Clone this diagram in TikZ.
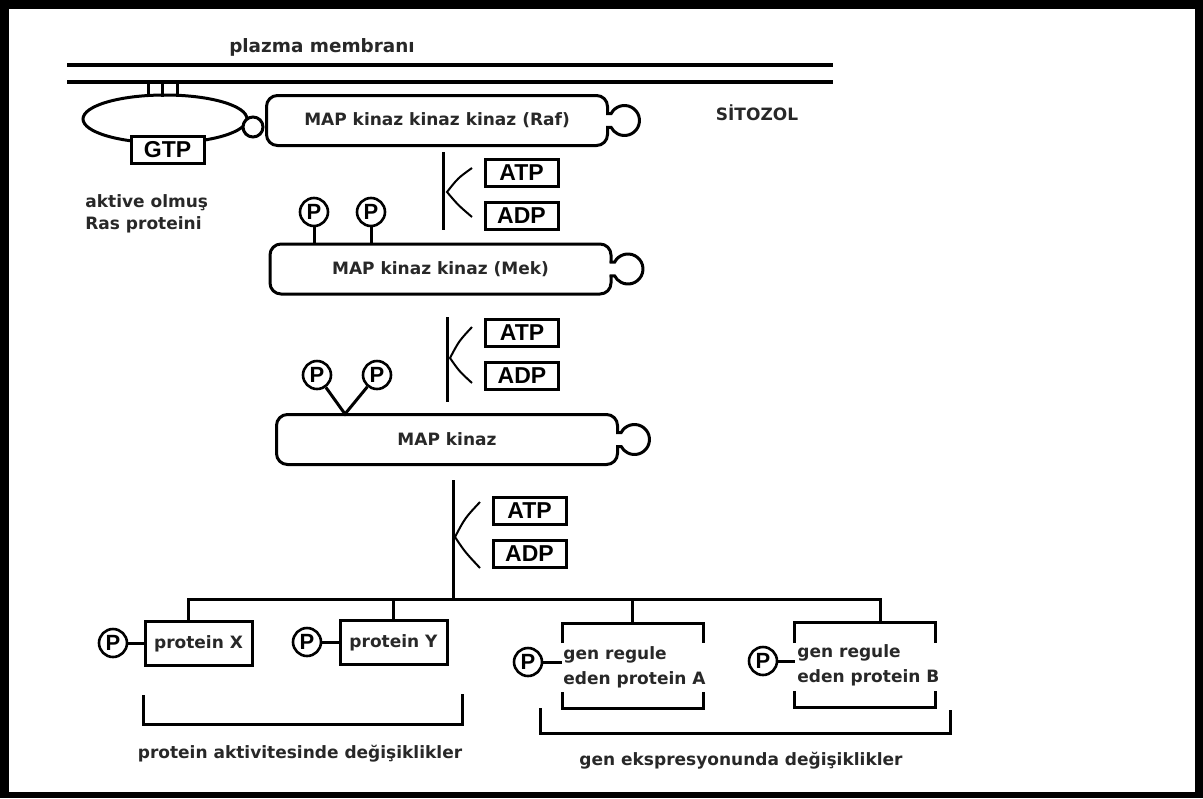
\documentclass[tikz,border=0pt]{standalone}
\usepackage{fontspec}
\setmainfont{DejaVu Sans}
\newfontfamily\arialfont{Liberation Sans}
\usepackage{tikz}
\usetikzlibrary{calc,positioning,shapes.geometric}
\definecolor{inkgray}{RGB}{40,40,40}
\newcommand{\lblfont}{\bfseries\fontsize{8.5}{12.5}\selectfont}

\begin{document}
\begin{tikzpicture}[
    x=0.5pt, y=-0.5pt,
    kinase/.style={draw, line width=1.5pt, fill=white, rounded corners=5.5pt, outer sep=0pt, minimum width=170.5pt, minimum height=25pt, font=\lblfont, text=inkgray},
    nucleo/.style={draw, line width=1.5pt, fill=white, outer sep=0pt, inner sep=0pt, minimum width=36.5pt, minimum height=13.5pt, font=\arialfont\bfseries\fontsize{11.5}{12}\selectfont},
    phos/.style={draw, circle, line width=1.3pt, fill=white, inner sep=0pt, minimum size=14pt, font=\arialfont\bfseries\fontsize{11}{11}\selectfont},
    protbox/.style={draw, line width=1.5pt, outer sep=0pt, minimum width=53.5pt, minimum height=22pt, font=\lblfont, text=inkgray},
    genbox/.style={minimum width=70.5pt, minimum height=42.5pt, outer sep=0pt},
    tag/.style={font=\lblfont, text=inkgray, inner sep=0pt},
    link/.style={line width=1.5pt},
    thinlink/.style={line width=1pt},
    membrane/.style={line width=2pt}
]
    % Frame
    \useasboundingbox (0,0) rectangle (1203,798);
    \fill[black] (0,0) rectangle (1203,798);
    \fill[white] (9,9) rectangle (1195,792);

    % Membrane
    \draw[membrane] (67,65) -- (833,65);
    \draw[membrane] (67,82) -- (833,82);
    \node[tag, anchor=base, font=\bfseries\fontsize{9.2}{11}\selectfont] (memlbl) at (322,52) {plazma membranı};
    \node[tag, anchor=base] (cytlbl) at (757,120) {SİTOZOL};

    % Ras
    \foreach \x in {148,162,177}
        \draw[link] (\x,82) -- (\x,97);
    \node[draw, ellipse, link, inner sep=0pt, minimum width=82pt, minimum height=24pt] (ras) at (165,119) {};
    \node[draw, circle, link, fill=white, inner sep=0pt, minimum size=10pt] (rasknob) at (253,127) {};
    \node[nucleo] (gtp) at (167.5,150) {GTP};
    \node[tag, anchor=west, align=left, font=\bfseries\fontsize{8.5}{11}\selectfont] (raslbl) at (85,214) {aktive olmuş\\Ras proteini};

    % Kinases
    \node[kinase] (raf) at (437,120.5) {MAP kinaz kinaz kinaz (Raf)};
    \node[kinase] (mek) at (440.5,269) {MAP kinaz kinaz (Mek)};
    \node[kinase] (mapk) at (447,439.5) {MAP kinaz};
    \foreach \k in {raf,mek,mapk} {
        \fill[white] ($(\k.east)+(-2.5,-6)$) rectangle ($(\k.east)+(3,6)$);
        \draw[link] ($(\k.east)+(-1.5,-7)$) -- ++(5.2,0) arc[start angle=-152.2, end angle=152.2, radius=15] -- ++(-5.2,0);
    }

    % Phosphates
    \node[phos] (pm1) at (314,212) {P};
    \node[phos] (pm2) at (371,212) {P};
    \draw[link] (pm1) -- (pm1 |- mek.north);
    \draw[link] (pm2) -- (pm2 |- mek.north);
    \node[phos] (pk1) at (317,375) {P};
    \node[phos] (pk2) at (377,375) {P};
    \coordinate (fork) at (345,414);
    \draw[link] (pk1) -- (fork) -- (pk2);

    % ATP / ADP
    \node[nucleo] (atp1) at (521.5,173) {ATP};
    \node[nucleo, below=8pt of atp1] (adp1) {ADP};
    \coordinate (s1top) at (443,152);
    \coordinate (s1bot) at (443,230);
    \draw[link] (s1top) -- (s1bot);
    \draw[thinlink] (472,168) .. controls (458,178) .. (447,192) .. controls (458,205) .. (472,217);

    \node[nucleo] (atp2) at (522,333) {ATP};
    \node[nucleo, below=8pt of atp2] (adp2) {ADP};
    \coordinate (s2top) at (447,317);
    \coordinate (s2bot) at (447,402);
    \draw[link] (s2top) -- (s2bot);
    \draw[thinlink] (472,327) .. controls (459,341) .. (450,358) .. controls (459,371) .. (472,383);

    \node[nucleo] (atp3) at (529.5,511) {ATP};
    \node[nucleo, below=8pt of atp3] (adp3) {ADP};
    \coordinate (s3top) at (453,480);
    \coordinate (busL) at (188,599);
    \coordinate (busR) at (880,599);
    \draw[link] (s3top) -- (s3top |- busL);
    \draw[thinlink] (480,502) .. controls (465,518) .. (455,537) .. controls (465,552) .. (480,568);

    % Targets
    \node[protbox] (protX) at (198.5,643.5) {protein X};
    \node[protbox] (protY) at (393.5,642.5) {protein Y};
    \node[genbox] (genA) at (632.5,665.5) {};
    \node[genbox] (genB) at (865,664.5) {};
    \node[tag, anchor=west, align=left] (genAtxt) at (563,667) {gen regule\\eden protein A};
    \node[tag, anchor=west, align=left] (genBtxt) at (797,665) {gen regule\\eden protein B};
    \draw[link] ($(genA.north west)+(0,20)$) |- (genA.north east) -- ++(0,20);
    \draw[link] ($(genA.south west)+(0,-16)$) |- (genA.south east) -- ++(0,-16);
    \draw[link] ($(genB.north west)+(0,21)$) |- (genB.north east) -- ++(0,21);
    \draw[link] ($(genB.south west)+(0,-16)$) |- (genB.south east) -- ++(0,-16);

    \draw[link] (protX.north -| busL) -- (busL) -- (busR) -- (genB.north -| busR);
    \draw[link] (protY.north |- busL) -- (protY.north);
    \draw[link] (genA.north |- busL) -- (genA.north);

    \node[phos] (px) at (113,643) {P};
    \node[phos] (py) at (307,642) {P};
    \node[phos] (pa) at (528,662) {P};
    \node[phos] (pb) at (763,661) {P};
    \draw[link] (px) -- (px -| protX.west);
    \draw[link] (py) -- (py -| protY.west);
    \draw[link] (pa) -- (pa -| genA.west);
    \draw[link] (pb) -- (pb -| genB.west);

    % Brackets
    \draw[link] (143,695) -- (143,724) -- (462,724) -- (462,694);
    \node[tag, anchor=base] (protlbl) at (300,758) {protein aktivitesinde değişiklikler};
    \draw[link] (540,708) -- (540,733) -- (950,733) -- (950,710);
    \node[tag, anchor=base] (genlbl) at (741,765) {gen ekspresyonunda değişiklikler};
\end{tikzpicture}
\end{document}
